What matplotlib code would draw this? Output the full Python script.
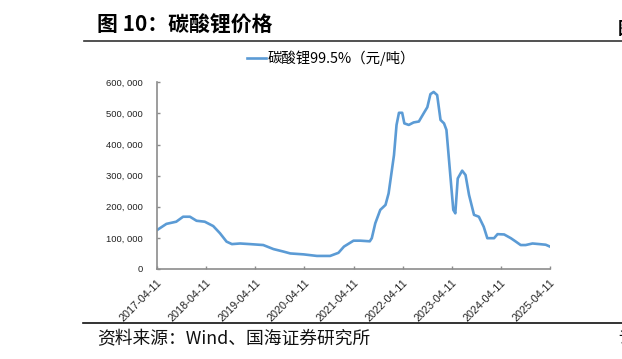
import matplotlib
matplotlib.use('Agg')
import matplotlib.pyplot as plt
import matplotlib.ticker as mticker
import pandas as pd

plt.rcParams['font.family'] = ['Noto Sans CJK SC', 'DejaVu Sans']

# 碳酸锂99.5% 价格（元/吨），读自原图
DATES = ['2017-04-11', '2017-06-20', '2017-09-01', '2017-10-22', '2017-12-12',
         '2018-01-30', '2018-04-01', '2018-06-03', '2018-07-23', '2018-09-10',
         '2018-10-20', '2018-12-20', '2019-03-03', '2019-06-10', '2019-08-25',
         '2019-11-07', '2019-12-28', '2020-04-05', '2020-07-13', '2020-10-19',
         '2020-12-20', '2021-01-30', '2021-04-11', '2021-06-01', '2021-08-10',
         '2021-08-25', '2021-09-20', '2021-10-27', '2021-12-05', '2021-12-28',
         '2022-02-06', '2022-02-25', '2022-03-15', '2022-04-08', '2022-04-24',
         '2022-05-27', '2022-07-02', '2022-08-10', '2022-09-17', '2022-10-12',
         '2022-11-04', '2022-11-28', '2022-12-24', '2023-01-18', '2023-02-13',
         '2023-03-03', '2023-03-20', '2023-04-08', '2023-04-23', '2023-05-08',
         '2023-05-26', '2023-06-28', '2023-07-23', '2023-08-18', '2023-09-24',
         '2023-10-30', '2023-12-05', '2024-01-01', '2024-02-20', '2024-03-17',
         '2024-05-05', '2024-06-24', '2024-07-31', '2024-09-05', '2024-10-12',
         '2024-12-02', '2025-01-22', '2025-03-10', '2025-04-11']
PRICES = [125000, 145000, 152000, 168000, 168000,
          155000, 152000, 138000, 115000, 88000,
          80000, 82000, 80000, 77000, 64000,
          56000, 50000, 47000, 42000, 42000,
          52000, 72000, 91000, 91000, 89000,
          99000, 147000, 190000, 206000, 243000,
          366000, 463000, 502000, 502000, 468000,
          463000, 471000, 474000, 502000, 520000,
          562000, 569000, 559000, 479000, 468000,
          447000, 361000, 265000, 190000, 179000,
          291000, 316000, 302000, 238000, 174000,
          168000, 136000, 99000, 99000, 112000,
          111000, 99000, 88000, 77000, 77000,
          82000, 80000, 78000, 72000]
TICK_DATES = ['2017-04-11', '2018-04-11', '2019-04-11', '2020-04-11',
              '2021-04-11', '2022-04-11', '2023-04-11', '2024-04-11',
              '2025-04-11']
SERIES_NAME = '碳酸锂99.5%（元/吨）'
TITLE = '图 10：碳酸锂价格'
SOURCE = '资料来源：Wind、国海证券研究所'

LINE_COLOR = '#5b9bd5'
AXIS_COLOR = '#8c8c8c'

dates = pd.to_datetime(DATES)
ticks = pd.to_datetime(TICK_DATES)

fig = plt.figure(figsize=(6.22, 3.59), dpi=100)
ax = fig.add_axes([157 / 622, 1 - 269 / 359, 393 / 622, 186.7 / 359])

ax.plot(dates, PRICES, color=LINE_COLOR, linewidth=1.9, label=SERIES_NAME)

ax.set_xlim(ticks[0], ticks[-1])
ax.set_ylim(0, 600000)
ax.set_xticks(ticks)
ax.set_xticklabels(TICK_DATES, rotation=45, ha='right', rotation_mode='anchor',
                   family=['Liberation Sans'], fontsize=7.8, color='#222222')
ax.yaxis.set_major_locator(mticker.MultipleLocator(100000))
ax.yaxis.set_major_formatter(
    mticker.FuncFormatter(lambda v, p: '{:,}'.format(int(v)).replace(',', ', ')))
for lab in ax.get_yticklabels():
    lab.set_family(['Liberation Sans'])
ax.tick_params(axis='y', labelsize=6.8, labelcolor='#222222')

for side in ['top', 'right']:
    ax.spines[side].set_visible(False)
for side in ['left', 'bottom']:
    ax.spines[side].set_color(AXIS_COLOR)
    ax.spines[side].set_linewidth(1.2)
ax.tick_params(direction='in', length=2.5, width=1, color=AXIS_COLOR)
ax.tick_params(axis='y', pad=10)
ax.tick_params(axis='x', pad=6)

ax.legend(loc='center', bbox_to_anchor=(331 / 622, 1 - 58 / 359),
          bbox_transform=fig.transFigure, frameon=False, fontsize=10.4,
          handlelength=1.3, handletextpad=0.15)

# 标题与分隔线
fig.text(97 / 622, 1 - 25 / 359, TITLE, fontsize=15, fontweight='bold',
         va='center', ha='left')
fig.text(618 / 622, 1 - 29 / 359, '图', fontsize=12.5, fontweight='bold',
         va='center', ha='left')
fig.add_artist(plt.Line2D([84 / 622, 1], [1 - 41 / 359, 1 - 41 / 359],
                          transform=fig.transFigure, color='#333333',
                          linewidth=1.2))
fig.add_artist(plt.Line2D([83 / 622, 1], [1 - 323 / 359, 1 - 323 / 359],
                          transform=fig.transFigure, color='#111111',
                          linewidth=1.2))
fig.text(97 / 622, 1 - 339 / 359, SOURCE, fontsize=12.8, va='center',
         ha='left', color='#111111')
fig.text(618 / 622, 1 - 339 / 359, '请', fontsize=11.5, va='center',
         ha='left', color='#111111')

fig.savefig('out.png', dpi=100)
